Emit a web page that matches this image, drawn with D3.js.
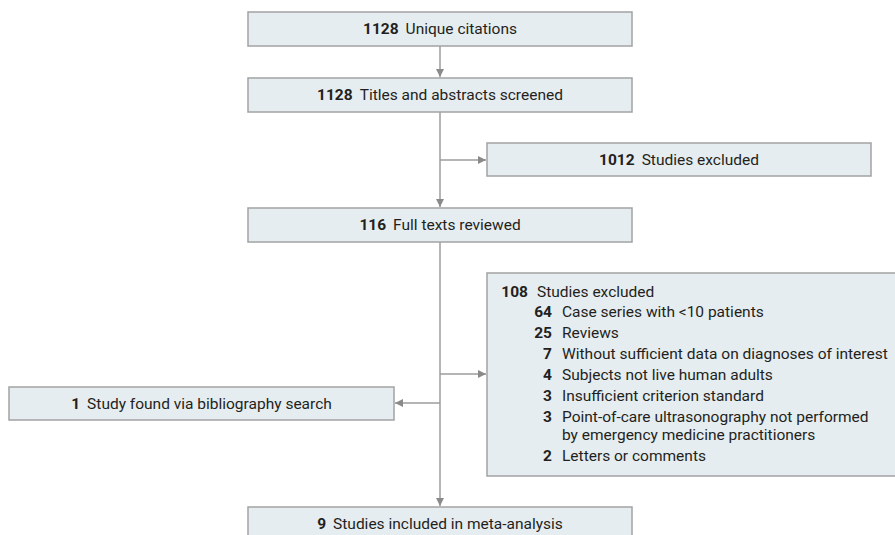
<!DOCTYPE html>
<html>
<head>
<meta charset="utf-8">
<script src="https://cdn.jsdelivr.net/npm/d3@7"></script>
<style>
  html, body { margin: 0; padding: 0; background: #fff; }
  svg { display: block; font-family: Roboto, "Noto Sans", sans-serif; }
</style>
</head>
<body>
<div id="chart"></div>
<script>
// flow counts and labels
var mainCounts = [1128, 1128, 116, 9];
var mainLabels = ["Unique citations", "Titles and abstracts screened", "Full texts reviewed", "Studies included in meta-analysis"];
var screenExcludedCount = 1012;
var screenExcludedLabel = "Studies excluded";
var fullTextExcludedCount = 108;
var fullTextExcludedLabel = "Studies excluded";
var reasonCounts = [64, 25, 7, 4, 3, 3, 2];
var reasonLabels = [
    ["Case series with <10 patients"],
    ["Reviews"],
    ["Without sufficient data on diagnoses of interest"],
    ["Subjects not live human adults"],
    ["Insufficient criterion standard"],
    ["Point-of-care ultrasonography not performed", "by emergency medicine practitioners"],
    ["Letters or comments"]
];
var addedCount = 1;
var addedLabel = "Study found via bibliography search";

var width = 895, height = 535;
var fill = "#e6edf1", border = "#a2a2a2", lineColor = "#9d9d9d", textColor = "#231f20";
var fontSize = 15.5;

var svg = d3.select("#chart").append("svg")
    .attr("width", width)
    .attr("height", height);

svg.append("defs").append("marker")
    .attr("id", "arrow")
    .attr("viewBox", "0 0 10 10")
    .attr("refX", 10).attr("refY", 5)
    .attr("markerWidth", 8).attr("markerHeight", 8)
    .attr("markerUnits", "userSpaceOnUse")
    .attr("orient", "auto")
    .append("path")
    .attr("d", "M0,0L10,5L0,10Z")
    .attr("fill", "#8a8a8a");

// layout
var mainX = 248, mainW = 384, midX = mainX + mainW / 2;
var mainY = [12, 78, 208, 507];
var boxH = 34;

function box(x, y, w, h) {
    svg.append("rect")
        .attr("x", x).attr("y", y)
        .attr("width", w).attr("height", h)
        .attr("fill", fill)
        .attr("stroke", border)
        .attr("stroke-width", 1.5);
}

function centeredLabel(cx, cy, count, label) {
    var t = svg.append("text")
        .attr("x", cx).attr("y", cy + 5)
        .attr("text-anchor", "middle")
        .attr("font-size", fontSize)
        .attr("fill", textColor);
    t.append("tspan").attr("font-weight", "bold").text(count);
    t.append("tspan").attr("dx", 7).text(label);
}

function line(x1, y1, x2, y2, arrow) {
    var l = svg.append("line")
        .attr("x1", x1).attr("y1", y1)
        .attr("x2", x2).attr("y2", y2)
        .attr("stroke", lineColor)
        .attr("stroke-width", 1.5);
    if (arrow) l.attr("marker-end", "url(#arrow)");
}

// connectors
line(midX, mainY[0] + boxH, midX, mainY[1] - 1, true);
line(midX, mainY[1] + boxH, midX, mainY[2] - 1, true);
line(midX, 160, 486, 160, true);
line(midX, mainY[2] + boxH, midX, mainY[3] - 1, true);
line(midX, 374, 486, 374, true);
line(midX, 403, 395, 403, true);

// main boxes
mainCounts.forEach(function (c, i) {
    box(mainX, mainY[i], mainW, boxH);
    centeredLabel(midX, mainY[i] + boxH / 2, c, mainLabels[i]);
});

// first exclusion
box(487, 143, 384, 33);
centeredLabel(487 + 192, 143 + 16.5, screenExcludedCount, screenExcludedLabel);

// bibliography addition
box(9, 387, 385, 33);
centeredLabel(9 + 192.5, 387 + 16.5, addedCount, addedLabel);

// full-text exclusion with reasons
box(487, 273, 412, 203);
var listX = 528, numX = 552, labelX = 562;
svg.append("text")
    .attr("x", listX).attr("y", 297)
    .attr("text-anchor", "end")
    .attr("font-size", fontSize).attr("font-weight", "bold")
    .attr("fill", textColor)
    .text(fullTextExcludedCount);
svg.append("text")
    .attr("x", listX + 9).attr("y", 297)
    .attr("font-size", fontSize).attr("fill", textColor)
    .text(fullTextExcludedLabel);

var y = 317;
reasonCounts.forEach(function (c, i) {
    svg.append("text")
        .attr("x", numX).attr("y", y)
        .attr("text-anchor", "end")
        .attr("font-size", fontSize).attr("font-weight", "bold")
        .attr("fill", textColor)
        .text(c);
    reasonLabels[i].forEach(function (s, j) {
        svg.append("text")
            .attr("x", labelX).attr("y", y + j * 18)
            .attr("font-size", fontSize).attr("fill", textColor)
            .text(s);
    });
    y += 21 + (reasonLabels[i].length - 1) * 18;
});
</script>
</body>
</html>
